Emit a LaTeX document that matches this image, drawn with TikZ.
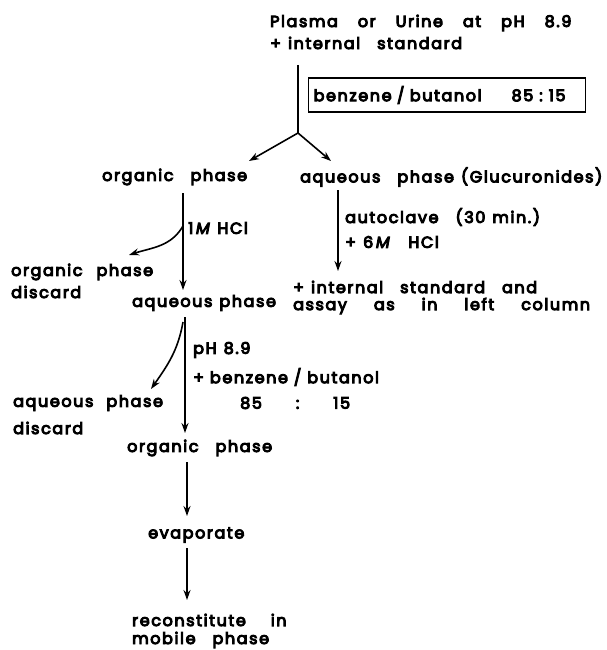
\documentclass[tikz,border=0pt]{standalone}
\usepackage{fontspec}
\setmainfont[LetterSpace=10,FakeBold=6]{Poppins}
\usetikzlibrary{arrows.meta}
\newcommand\W{\hspace{17pt}}
\newcommand\w{\hspace{7pt}}
\newcommand\G[1]{\hspace{#1pt}}
\begin{document}
\begin{tikzpicture}[x=1pt,y=-1pt,
  txt/.style={anchor=west,inner sep=0pt,font=\fontsize{16}{19}\selectfont},
  arr/.style={line width=1.6pt,-{Stealth[length=10pt,width=7pt]}},
  ln/.style={line width=1.6pt}]
\useasboundingbox (0,0) rectangle (606,650);
% top
\node[txt] (top1) at (270,23) {Plasma\G{20}or\G{20}Urine\G{20}at\G{20}pH\G{20}8.9};
\node[txt] (top2) at (270,43) {+\w internal\W standard};
\coordinate (t0) at (298,65);
\coordinate (j) at (298,133);
\node[txt,draw,line width=1.3pt,minimum height=34pt,minimum width=277pt,text width=267pt,inner xsep=5pt] (box) at (308,95) {benzene / butanol\G{30}85\G{6}:\G{6}15};
\draw[ln] (t0) -- (j);
\node[txt] (org1) at (102,177) {organic\W phase};
\node[txt] (aq1) at (300,177) {aqueous\W phase\w(Glucuronides)};
\coordinate (a1) at (249,161);
\coordinate (a2) at (331,161);
\draw[arr] (j) -- (a1);
\draw[arr] (j) -- (a2);
% left column step 1
\coordinate (l1s) at (183,193);
\coordinate (l1e) at (183,290);
\draw[arr] (l1s) -- (l1e);
\node[txt] (hcl1) at (188,228) {1\,\textit{M}\G{6}HCl};
\coordinate (c1s) at (183,226);
\coordinate (c1e) at (129,255);
\draw[arr] (c1s) to[out=-120,in=18] (c1e);
\node[txt] (od1) at (11,272) {organic\G{14}phase};
\node[txt] (od2) at (11,292) {discard};
\node[txt] (aq2) at (132,303) {aqueous\G{7}phase};
% right column
\coordinate (r1s) at (338,190);
\coordinate (r1e) at (338,271);
\draw[arr] (r1s) -- (r1e);
\node[txt] (auto) at (345,217) {autoclave\W(30\w min.)};
\node[txt] (hcl6) at (345,242) {+\w6\,\textit{M}\W HCl};
\node[txt] (is1) at (293,287) {+\w internal\W standard\W and};
\node[txt] (is2) at (293,306) {assay\G{27}as\G{27}in\G{27}left\G{27}column};
% left column step 2
\coordinate (l2s) at (185,317);
\coordinate (l2e) at (185,433);
\draw[arr] (l2s) -- (l2e);
\coordinate (c2s) at (183,322);
\coordinate (c2e) at (151,389);
\draw[arr] (c2s) to[out=-100,in=55] (c2e);
\node[txt] (ph) at (193,350) {pH\w 8.9};
\node[txt] (bb) at (193,377) {+ benzene / butanol};
\node[txt] (ratio) at (240,403) {85\G{34}:\G{34}15};
\node[txt] (ad1) at (13,403) {aqueous\G{13}phase};
\node[txt] (ad2) at (13,428) {discard};
\node[txt] (org2) at (127,448) {organic\W phase};
\coordinate (l3s) at (187,462);
\coordinate (l3e) at (187,516);
\draw[arr] (l3s) -- (l3e);
\node[txt] (ev) at (148,535) {evaporate};
\coordinate (l4s) at (187,548);
\coordinate (l4e) at (187,600);
\draw[arr] (l4s) -- (l4e);
\node[txt] (rc1) at (132,620) {reconstitute\G{25}in};
\node[txt] (rc2) at (132,640) {mobile\W phase};
\end{tikzpicture}
\end{document}
